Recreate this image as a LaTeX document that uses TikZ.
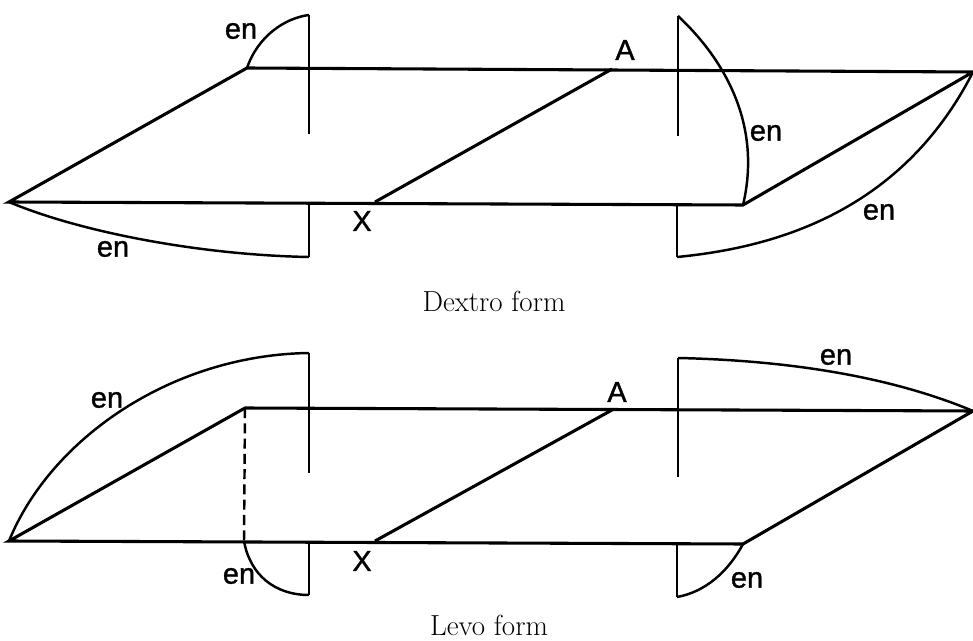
\documentclass[tikz,border=0pt]{standalone}
\usepackage{fontspec}
\newfontfamily\letterfont[FakeBold=1.2]{Liberation Sans}
\usepackage{tikz}
\usetikzlibrary{positioning,calc}
\tikzset{
  bond/.style={line width=1.75pt},
  arcline/.style={line width=1.4pt},
  lettering/.style={font=\letterfont\fontsize{16.5}{16.5}\selectfont, inner sep=0pt},
  formlabel/.style={font=\fontsize{16.5}{17}\selectfont\addfontfeature{WordSpace=1.7}, inner sep=0pt}
}
\begin{document}
\begin{tikzpicture}[x=0.02cm, y=-0.02cm]
    \useasboundingbox (0,0) rectangle (973,641);

    % Dextro form
    \coordinate (dw) at (9,202);
    \coordinate (dn) at (247,68);
    \coordinate (de) at (973,72);
    \coordinate (ds) at (743,205);
    \coordinate (dx) at (375,202);
    \coordinate (da) at (612,69);
    \draw[bond] (dn) -- (de) -- (ds) -- (dw) -- cycle;
    \draw[bond] (dx) -- (da);

    % Dextro planes
    \coordinate (dp1) at (309,15);
    \coordinate (dp2) at (309,134);
    \coordinate (dp3) at (309,205);
    \coordinate (dp4) at (309,257);
    \coordinate (dq1) at (678,16);
    \coordinate (dq2) at (678,136);
    \coordinate (dq3) at (677,205);
    \coordinate (dq4) at (677,257);
    \draw[arcline] (dp1) -- (dp2) (dp3) -- (dp4) (dq1) -- (dq2) (dq3) -- (dq4);
    \draw[arcline] (dn) .. controls (258,36) and (285,18) .. (dp1);
    \draw[arcline] (dq1) .. controls (725,60) and (762,125) .. (ds);
    \draw[arcline] (dw) .. controls (80,232) and (200,255) .. (dp4);
    \draw[arcline] (dq4) .. controls (770,248) and (900,215) .. (de);

    \node[lettering] (den1) at (241,31) {en};
    \node[lettering] (den2) at (766,133) {en};
    \node[lettering] (den3) at (113,249) {en};
    \node[lettering] (den4) at (879,212) {en};
    \node[lettering] (dlA) at (625,50) {A};
    \node[lettering] (dlX) at (362,221) {X};
    \node[formlabel] (dcap) at (494,301) {Dextro form};

    % Levo form
    \coordinate (lw) at (9,541);
    \coordinate (ln) at (245,408);
    \coordinate (le) at (973,411);
    \coordinate (ls) at (743,544);
    \coordinate (lx) at (375,541);
    \coordinate (la) at (612,410);
    \coordinate (lf) at (244,541);
    \draw[bond] (ln) -- (le) -- (ls) -- (lw) -- cycle;
    \draw[bond] (lx) -- (la);
    \draw[arcline, dash pattern=on 5.7pt off 3pt] (ln) -- (lf);

    % Levo planes
    \coordinate (lp1) at (309,353);
    \coordinate (lp2) at (309,473);
    \coordinate (lp3) at (309,544);
    \coordinate (lp4) at (309,595);
    \coordinate (lq1) at (678,358);
    \coordinate (lq2) at (678,477);
    \coordinate (lq3) at (677,544);
    \coordinate (lq4) at (677,597);
    \draw[arcline] (lp1) -- (lp2) (lp3) -- (lp4) (lq1) -- (lq2) (lq3) -- (lq4);
    \draw[arcline] (lw) .. controls (50,440) and (170,355) .. (lp1);
    \draw[arcline] (lq1) .. controls (770,360) and (880,372) .. (le);
    \draw[arcline] (lf) .. controls (250,575) and (275,595) .. (lp4);
    \draw[arcline] (lq4) .. controls (705,592) and (728,572) .. (ls);

    \node[lettering] (len1) at (107,400) {en};
    \node[lettering] (len2) at (836,357) {en};
    \node[lettering] (len3) at (239,576) {en};
    \node[lettering] (len4) at (747,580) {en};
    \node[lettering] (llA) at (617,392) {A};
    \node[lettering] (llX) at (362,561) {X};
    \node[formlabel] (lcap) at (489,625) {Levo form};
\end{tikzpicture}
\end{document}
